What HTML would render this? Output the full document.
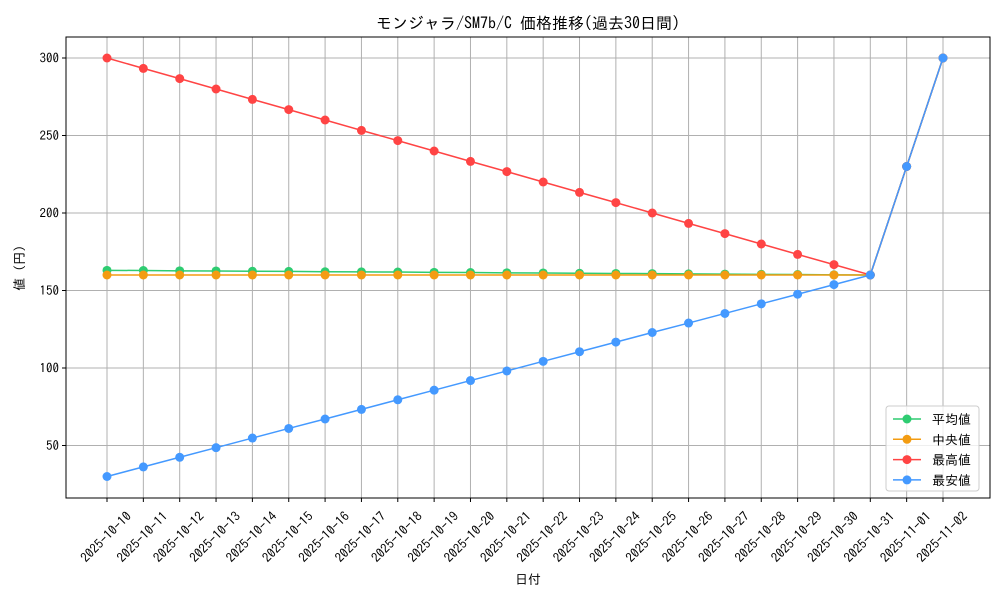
<!DOCTYPE html>
<html><head><meta charset="utf-8"><style>
body{margin:0;background:#fff;}
svg text{font-family:"IPAGothic","Liberation Sans","Noto Sans CJK JP",sans-serif;fill:#000;}
</style></head><body>
<svg id="chart" width="1000" height="600" viewBox="0 0 1000 600" xmlns="http://www.w3.org/2000/svg">
<rect width="1000" height="600" fill="#fff"/>
<g id="grid"></g>
<g id="series"></g>
<rect x="66" y="37" width="924" height="461" fill="none" stroke="#000" stroke-width="1"/>
<g id="axes"></g>
<text x="528" y="29" font-size="16" text-anchor="middle">モンジャラ/SM7b/C 価格推移(過去30日間)</text>
<text x="528" y="584" font-size="13" text-anchor="middle">日付</text>
<text x="24" y="268" font-size="13" text-anchor="middle" transform="rotate(-90 24 268)">値 (円)</text>
<g id="legend"></g>
</svg>
<script>
const categories=["2025-10-10","2025-10-11","2025-10-12","2025-10-13","2025-10-14","2025-10-15","2025-10-16","2025-10-17","2025-10-18","2025-10-19","2025-10-20","2025-10-21","2025-10-22","2025-10-23","2025-10-24","2025-10-25","2025-10-26","2025-10-27","2025-10-28","2025-10-29","2025-10-30","2025-10-31","2025-11-01","2025-11-02"];
const avgValues=[163,162.9,162.7,162.6,162.4,162.3,162.1,162,161.9,161.7,161.6,161.4,161.3,161.1,161,160.9,160.7,160.6,160.4,160.3,160.1,160,230,300];
const medianValues=[160,160,160,160,160,160,160,160,160,160,160,160,160,160,160,160,160,160,160,160,160,160,230,300];
const maxValues=[300,293.3,286.7,280,273.3,266.7,260,253.3,246.7,240,233.3,226.7,220,213.3,206.7,200,193.3,186.7,180,173.3,166.7,160,230,300];
const minValues=[30,36.2,42.4,48.6,54.8,61,67.1,73.3,79.5,85.7,91.9,98.1,104.3,110.5,116.7,122.9,129,135.2,141.4,147.6,153.8,160,230,300];
const yTicks=[50,100,150,200,250,300];
const seriesNames=["平均値","中央値","最高値","最安値"];
const NS="http://www.w3.org/2000/svg";
const X0=107,X1=943;
function xs(i){return X0+(X1-X0)*i/(categories.length-1);}
function ys(v){return 58+(300-v)*1.55;}
function mk(t,a,p){const e=document.createElementNS(NS,t);for(const k in a)e.setAttribute(k,a[k]);p.appendChild(e);return e;}
const grid=document.getElementById('grid'),axes=document.getElementById('axes'),ser=document.getElementById('series'),leg=document.getElementById('legend');
categories.forEach((c,i)=>{
 const x=xs(i);
 const g=mk('line',{x1:x,x2:x,y1:37,y2:498,stroke:'#b0b0b0','stroke-width':1},grid);
 
 
 const t=mk('line',{x1:x,x2:x,y1:498,y2:502,stroke:'#000'},axes);
 
 
 const cx=x-1,cy=537;
 const l=mk('text',{x:cx,y:cy+4.5,'font-size':13,'text-anchor':'middle',transform:`rotate(-45 ${cx} ${cy})`},axes);
 l.textContent=c;
 
 
});
yTicks.forEach(v=>{
 const y=ys(v);
 const g=mk('line',{x1:66,x2:990,y1:y,y2:y,stroke:'#b0b0b0','stroke-width':1},grid);
 
 
 const t=mk('line',{x1:62,x2:66,y1:y,y2:y,stroke:'#000'},axes);
 
 
 const l=mk('text',{x:59,y:y+4.5,'font-size':13,'text-anchor':'end'},axes);
 l.textContent=v;
 
 
});
const series=[[avgValues,'#2ecc71'],[medianValues,'#f39c12'],[maxValues,'#ff4444'],[minValues,'#4499ff']];
series.forEach(([vals,col],si)=>{
 const g=mk('g',{},ser);
 
 
 mk('polyline',{points:vals.map((v,i)=>xs(i)+','+ys(v)).join(' '),fill:'none',stroke:col,'stroke-width':1.5},g);
 vals.forEach((v,i)=>{
  const p=mk('circle',{cx:xs(i),cy:ys(v),r:4.5,fill:col},g);
  
  
 });
});
const lb=mk('rect',{x:886,y:406,width:93,height:85,rx:3,fill:'#fff','fill-opacity':0.8,stroke:'#ccc'},leg);


series.forEach(([v,col],i)=>{
 const y=419+i*20.3;
 const g=mk('g',{},leg);
 
 
 mk('line',{x1:893,x2:921,y1:y,y2:y,stroke:col,'stroke-width':1.5},g);
 mk('circle',{cx:907,cy:y,r:4.5,fill:col},g);
 const t=mk('text',{x:932,y:y+5,'font-size':13},g);
 t.textContent=seriesNames[i];
});
</script>
</body></html>
